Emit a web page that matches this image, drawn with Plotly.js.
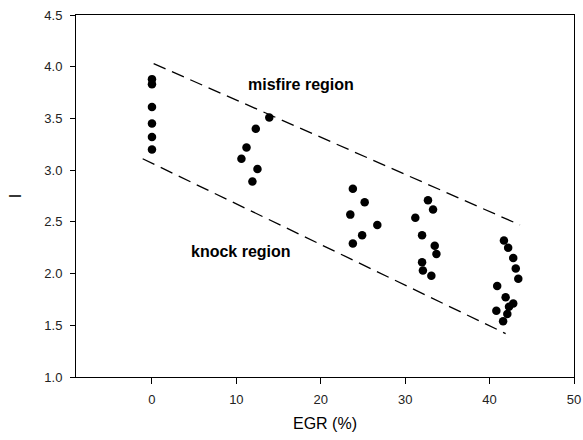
<!DOCTYPE html>
<html>
<head>
<meta charset="utf-8">
<script src="https://cdn.plot.ly/plotly-3.0.1.min.js"></script>
<style>html,body{margin:0;padding:0;background:#fff;}</style>
</head>
<body>
<div id="chart" style="width:583px;height:440px;"></div>
<script>
// Measured points: EGR (%) and I
const egr = [
  0, 0, 0, 0, 0, 0,
  13.9, 12.3, 11.2, 10.6, 12.5, 11.9,
  23.8, 25.2, 23.5, 26.7, 24.9, 23.8,
  32.7, 33.3, 31.2, 32.0, 33.5, 33.7, 32.0, 32.1, 33.1,
  41.7, 42.2, 42.8, 43.1, 43.4, 40.9, 41.9, 42.8, 42.3, 40.8, 42.1, 41.6
];
const iVal = [
  3.88, 3.83, 3.61, 3.45, 3.32, 3.20,
  3.51, 3.40, 3.22, 3.11, 3.01, 2.89,
  2.82, 2.69, 2.57, 2.47, 2.37, 2.29,
  2.71, 2.62, 2.54, 2.37, 2.27, 2.19, 2.11, 2.03, 1.98,
  2.32, 2.25, 2.15, 2.05, 1.95, 1.88, 1.77, 1.71, 1.68, 1.64, 1.61, 1.54
];
// Boundary lines
const misfireX = [0.2, 43.6];
const misfireY = [4.03, 2.47];
const knockX = [-1.1, 41.9];
const knockY = [3.11, 1.42];
// Labels
const labelText = ["misfire region", "knock region"];
const labelX = [17.7, 10.6];
const labelY = [3.83, 2.21];
const xTicks = [0, 10, 20, 30, 40, 50];
const yTicks = [1.0, 1.5, 2.0, 2.5, 3.0, 3.5, 4.0, 4.5];

const font = "Liberation Sans, Arial, sans-serif";
const traces = [
  {x: misfireX, y: misfireY, mode: "lines", line: {color: "#000", width: 1.3, dash: "13px,7px"}, hoverinfo: "skip"},
  {x: knockX, y: knockY, mode: "lines", line: {color: "#000", width: 1.3, dash: "13px,7px"}, hoverinfo: "skip"},
  {x: egr, y: iVal, mode: "markers", marker: {color: "#000", size: 8.5}}
];
const layout = {
  width: 583, height: 440,
  margin: {l: 76, r: 9, t: 15, b: 63},
  showlegend: false,
  paper_bgcolor: "#fff", plot_bgcolor: "#fff",
  font: {family: font, size: 13, color: "#000"},
  xaxis: {
    range: [-9, 50], tickvals: xTicks, ticktext: xTicks.map(String),
    showgrid: false, zeroline: false, showline: true, linecolor: "#000", linewidth: 1,
    mirror: true, ticks: "outside", ticklen: 6, tickcolor: "#000",
    ticklabelstandoff: 4,
    tickfont: {family: font, size: 13, color: "#222"},
    title: {text: "EGR (%)", font: {family: font, size: 16, color: "#000"}, standoff: 12}
  },
  yaxis: {
    range: [1.0, 4.5], tickvals: yTicks, ticktext: yTicks.map(v => v.toFixed(1)),
    showgrid: false, zeroline: false, showline: true, linecolor: "#000", linewidth: 1,
    mirror: true, ticks: "outside", ticklen: 5, tickcolor: "#000",
    ticklabelstandoff: 5,
    tickfont: {family: font, size: 13, color: "#222"},
    title: {text: "I", font: {family: font, size: 16, color: "#000"}, standoff: 18}
  },
  annotations: labelText.map((t, k) => ({
    x: labelX[k], y: labelY[k], xref: "x", yref: "y", text: "<b>" + t + "</b>",
    showarrow: false, font: {family: font, size: 16, color: "#000"}
  }))
};
Plotly.newPlot("chart", traces, layout, {displayModeBar: false, staticPlot: true});
</script>
</body>
</html>
